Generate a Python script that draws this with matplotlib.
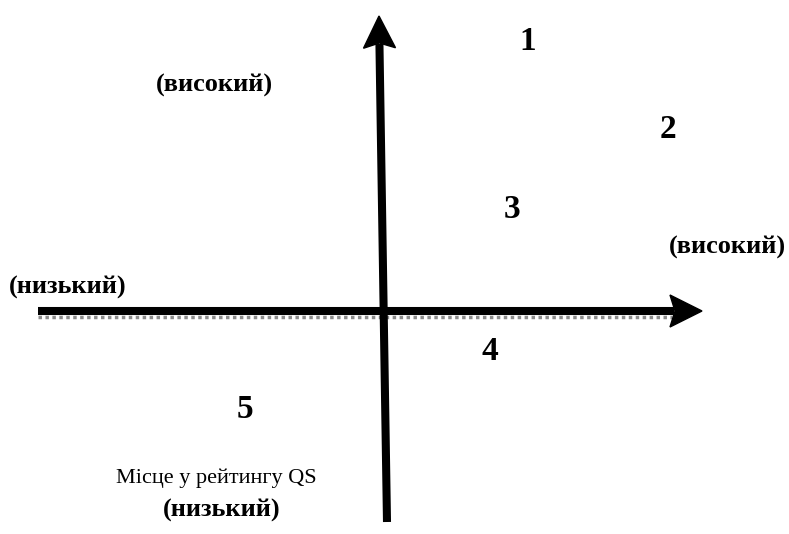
import matplotlib.pyplot as plt
from matplotlib.patches import Polygon

plt.rcParams['font.family'] = ['Liberation Serif', 'DejaVu Serif']

# points on the map (origin = crossing of the axes, units ~ pixels)
point_labels = ['1', '2', '3', '4', '5']
point_x = [145, 285, 129, 107, -138]
point_y = [269, 181, 101, -41, -99]

# axis end labels
axis_texts = ['(високий)', '(високий)', '(низький)', 'Місце у рейтингу QS', '(низький)']
axis_text_x = [-169, 344, -315, -167, -161]
axis_text_y = [226, 64, 24, -167, -199]
axis_text_bold = [True, True, True, False, True]

# axes lines: (tail, tip)
h_axis = [(-345, 0), (319, 0)]
v_axis = [(4, -211), (-4, 295)]

fig = plt.figure(figsize=(7.89, 5.34), dpi=100)
ax = fig.add_axes([0, 0, 1, 1])
ax.set_xlim(-383, 406)
ax.set_ylim(-223, 311)
ax.axis('off')


def draw_arrow(tail, tip, head_len=32, head_w=32, lw=5.8):
    (x0, y0), (x1, y1) = tail, tip
    dx, dy = x1 - x0, y1 - y0
    d = (dx ** 2 + dy ** 2) ** 0.5
    ux, uy = dx / d, dy / d
    bx, by = x1 - ux * head_len, y1 - uy * head_len
    ax.plot([x0, bx + ux * 4], [y0, by + uy * 4], color='black', lw=lw,
            solid_capstyle='butt', zorder=3)
    head = Polygon([(x1, y1),
                    (bx - uy * head_w / 2, by + ux * head_w / 2),
                    (bx + ux * 5, by + uy * 5),
                    (bx + uy * head_w / 2, by - ux * head_w / 2)],
                   closed=True, color='black', zorder=4)
    ax.add_patch(head)


# grey dotted shadow under horizontal axis
ax.plot([h_axis[0][0], h_axis[1][0] - 30], [-5.5, -5.5], color='#8c8c8c', lw=2.5,
        ls=(0, (1, 1)), zorder=2)
draw_arrow(*h_axis)
draw_arrow(*v_axis)

for lab, x, y in zip(point_labels, point_x, point_y):
    ax.text(x, y, lab, fontsize=24, fontweight='bold', ha='center', va='center')

for t, x, y, b in zip(axis_texts, axis_text_x, axis_text_y, axis_text_bold):
    ax.text(x, y, t, fontsize=19 if b else 16, fontweight='bold' if b else 'normal',
            ha='center', va='center')

fig.savefig('out.png', dpi=100)
